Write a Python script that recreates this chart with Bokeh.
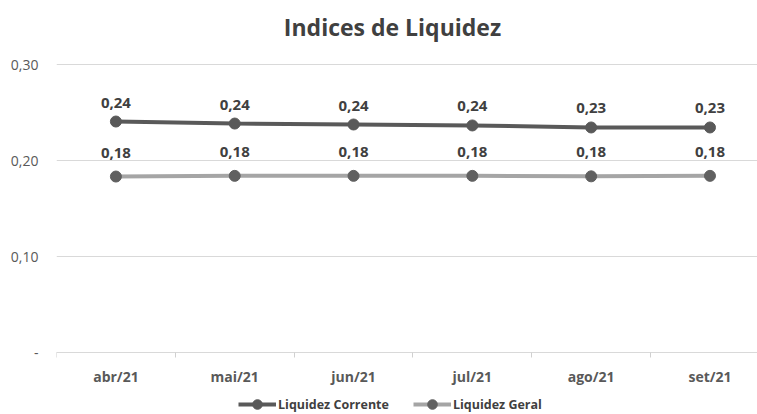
from bokeh.plotting import figure
from bokeh.models import Range1d, FixedTicker, Legend, LegendItem, Label
from bokeh.core.properties import value
from bokeh.embed import file_html
from bokeh.resources import INLINE

# ---- data ----
categories = ["abr/21", "mai/21", "jun/21", "jul/21", "ago/21", "set/21"]
liquidez_corrente = [0.2406, 0.2385, 0.2375, 0.2365, 0.2344, 0.2344]
liquidez_geral = [0.1833, 0.1840, 0.1840, 0.1840, 0.1835, 0.1840]
y_ticks = [0.0, 0.10, 0.20, 0.30]
y_tick_labels = ["-", "0,10", "0,20", "0,30"]
title_text = "Indices de Liquidez"
series_names = ["Liquidez Corrente", "Liquidez Geral"]

FONT = "Open Sans"
xs = list(range(len(categories)))

def fmt(v):
    return f"{v:.2f}".replace(".", ",")

# frame spans full height; value axis scale: 0.30 at 64px from top, 0 at 352px
p = figure(width=757, height=414, output_backend="svg", toolbar_location=None, title=None,
           x_range=Range1d(-0.5, 5.40), y_range=Range1d(-0.06458, 0.36667),
           min_border_left=56, min_border_right=0, min_border_top=0, min_border_bottom=0)
p.outline_line_color = None
p.background_fill_color = "white"
p.border_fill_color = "white"

# x axis fixed at y = 0
p.xaxis.fixed_location = 0
p.xaxis.ticker = FixedTicker(ticks=xs, minor_ticks=[i - 0.5 for i in range(len(categories) + 1)])
p.xaxis.major_label_overrides = {i: c for i, c in enumerate(categories)}
p.xaxis.major_tick_line_color = None
p.xaxis.major_tick_out = 0
p.xaxis.major_tick_in = 0
p.xaxis.minor_tick_in = 0
p.xaxis.minor_tick_out = 5
p.xaxis.minor_tick_line_color = "#d0d0d0"
p.xaxis.axis_line_color = "#d9d9d9"
p.xaxis.major_label_text_font = FONT
p.xaxis.major_label_text_font_style = "bold"
p.xaxis.major_label_text_font_size = "14px"
p.xaxis.major_label_text_color = "#595959"
p.xaxis.major_label_standoff = 9

p.yaxis.ticker = FixedTicker(ticks=y_ticks)
p.yaxis.major_label_overrides = {t: l for t, l in zip(y_ticks, y_tick_labels)}
p.yaxis.axis_line_color = None
p.yaxis.major_tick_line_color = None
p.yaxis.minor_tick_line_color = None
p.yaxis.major_tick_out = 0
p.yaxis.major_label_text_font = FONT
p.yaxis.major_label_text_font_size = "14px"
p.yaxis.major_label_text_color = "#595959"
p.yaxis.major_label_standoff = 18

p.xgrid.grid_line_color = None
p.ygrid.ticker = FixedTicker(ticks=y_ticks)
p.ygrid.grid_line_color = "#d9d9d9"
p.ygrid.grid_line_width = 1

# series
l1 = p.line(xs, liquidez_corrente, line_color="#595959", line_width=4)
s1 = p.scatter(xs, liquidez_corrente, size=11, fill_color="#595959", line_color="#595959")
l2 = p.line(xs, liquidez_geral, line_color="#a5a5a5", line_width=4)
s2 = p.scatter(xs, liquidez_geral, size=11, fill_color="#606060", line_color="#606060")

p.text(xs, liquidez_corrente, text=[fmt(v) for v in liquidez_corrente], y_offset=-19,
       text_font=value(FONT), text_font_style="bold", text_font_size="15px",
       text_color="#404040", text_align="center", text_baseline="middle")
p.text(xs, liquidez_geral, text=[fmt(v) for v in liquidez_geral], y_offset=-24,
       text_font=value(FONT), text_font_style="bold", text_font_size="15px",
       text_color="#404040", text_align="center", text_baseline="middle")

# title
p.add_layout(Label(x=336, y=388, x_units="screen", y_units="screen", text=title_text,
                   text_font=FONT, text_font_style="bold", text_font_size="23px",
                   text_color="#404040", text_align="center", text_baseline="middle"))

legend = Legend(items=[LegendItem(label=series_names[0], renderers=[l1, s1]),
                       LegendItem(label=series_names[1], renderers=[l2, s2])],
                orientation="horizontal", location=(182, -2),
                padding=0, margin=0, spacing=24, glyph_width=38, glyph_height=24,
                label_standoff=2, label_text_font=FONT, label_text_font_style="bold",
                label_text_font_size="12.5px", label_text_color="#404040",
                background_fill_alpha=0, border_line_color=None)
p.add_layout(legend, "center")

open("out.html", "w").write(file_html(p, INLINE))
